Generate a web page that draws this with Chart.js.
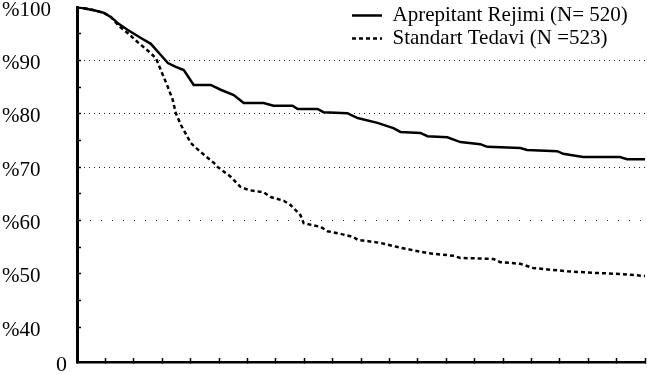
<!DOCTYPE html>
<html>
<head>
<meta charset="utf-8">
<script src="https://cdn.jsdelivr.net/npm/chart.js@4/dist/chart.umd.min.js"></script>
<style>
  html, body { margin: 0; padding: 0; background: #fff; }
  canvas { display: block; }
</style>
</head>
<body>
<canvas id="kmChart" width="647" height="374"></canvas>
<script>
// series names as printed in the legend
const seriesNames = ["Aprepitant Rejimi (N= 520)", "Standart Tedavi (N =523)"];

// time (axis units, one per x tick) and % without emesis
const aprepitantTime = [0, 0.6, 0.95, 1.2, 1.48, 1.79, 2.25, 2.6, 2.95, 3.2, 3.48, 3.76, 4.11, 4.71, 5.06, 5.52, 5.87, 6.57, 6.92, 7.59, 7.77, 8.47, 8.68, 9.52, 9.88, 10.58, 11.14, 11.39, 12.09, 12.34, 13.04, 13.5, 14.2, 14.45, 15.61, 15.85, 16.91, 17.12, 17.82, 19.12, 19.37, 20];
const aprepitantSurvival = [100, 99.4, 98.9, 98.1, 96.8, 95.7, 94.2, 93.1, 91.0, 89.5, 88.8, 88.2, 85.4, 85.4, 84.5, 83.5, 82.0, 82.0, 81.5, 81.5, 80.9, 80.9, 80.3, 80.1, 79.2, 78.3, 77.3, 76.6, 76.4, 75.8, 75.6, 74.7, 74.3, 73.8, 73.6, 73.2, 73.0, 72.5, 71.9, 71.9, 71.5, 71.5];

const standardTime = [0, 0.6, 0.95, 1.2, 1.48, 1.79, 2.14, 2.5, 2.78, 2.95, 3.2, 3.37, 3.48, 3.66, 4.01, 4.36, 4.82, 4.96, 5.41, 5.76, 6.05, 6.57, 6.82, 7.28, 7.52, 7.87, 7.98, 8.58, 8.82, 9.28, 9.74, 9.88, 10.69, 11.39, 12.34, 13.25, 13.5, 14.66, 14.9, 15.61, 16.06, 17.26, 18.17, 19.12, 20];
const standardSurvival = [100, 99.4, 98.9, 98.1, 96.4, 95.1, 93.4, 91.8, 90.4, 88.2, 85.0, 82.6, 80.1, 77.9, 74.5, 72.8, 70.8, 70.0, 68.2, 66.3, 65.7, 65.3, 64.4, 63.7, 62.9, 61.0, 59.5, 58.8, 58.0, 57.5, 56.9, 56.4, 55.8, 54.9, 53.9, 53.4, 53.0, 52.8, 52.2, 51.9, 51.1, 50.5, 50.2, 50.0, 49.6];

// y axis: labelled ticks, small marks every 5, and the broken bottom shown as "0"
const yLabelValues = [40, 50, 60, 70, 80, 90, 100];
const yMarkValues = [40, 45, 50, 55, 60, 65, 70, 75, 80, 85, 90, 95, 100];
const yAxisBottom = 33.5;
const xMax = 20;

const serif = "'Liberation Serif', 'DejaVu Serif', serif";
const clear = 'rgba(0,0,0,0)';

function toPoints(xs, ys) {
  return xs.map((x, i) => ({ x: x, y: ys[i] }));
}

// legend sits inside the plot, top right
const legendSpot = {
  id: 'legendSpot',
  afterLayout(chart) {
    const lg = chart.legend;
    if (!lg) return;
    lg.left = 350;
    lg.top = 3;
  }
};

new Chart(document.getElementById('kmChart'), {
  type: 'line',
  data: {
    datasets: [{
      label: seriesNames[0],
      data: toPoints(aprepitantTime, aprepitantSurvival),
      borderColor: '#000',
      borderWidth: 2.5,
      pointRadius: 0,
      tension: 0,
      fill: false,
      xAxisID: 'x',
      yAxisID: 'y'
    }, {
      label: seriesNames[1],
      data: toPoints(standardTime, standardSurvival),
      borderColor: '#000',
      borderWidth: 2.5,
      borderDash: [4, 3],
      pointRadius: 0,
      tension: 0,
      fill: false,
      xAxisID: 'x',
      yAxisID: 'y'
    }]
  },
  options: {
    responsive: false,
    animation: false,
    events: [],
    layout: { padding: { left: 2, right: 2, top: 7, bottom: 12 } },
    plugins: {
      tooltip: { enabled: false },
      legend: {
        position: 'chartArea',
        align: 'start',
        labels: {
          usePointStyle: true,
          pointStyle: 'line',
          pointStyleWidth: 30,
          padding: 2,
          color: '#000',
          font: { family: serif, size: 21 },
          // point style drops the dataset dash, so put it back
          generateLabels: chart => Chart.defaults.plugins.legend.labels.generateLabels(chart).map((item, i) => {
            const ds = chart.data.datasets[i];
            item.lineDash = ds.borderDash || [];
            item.lineWidth = ds.borderWidth;
            item.strokeStyle = ds.borderColor;
            return item;
          })
        }
      }
    },
    scales: {
      x: {
        type: 'linear',
        position: 'bottom',
        min: 0,
        max: xMax,
        ticks: { display: false, stepSize: 1, autoSkip: false },
        grid: { drawOnChartArea: false, drawTicks: true, tickLength: -4, tickWidth: 1.5, tickColor: '#000' },
        border: { color: '#000', width: 2.5 },
        afterFit: s => { s.height = 0; s.paddingLeft = 0; s.paddingRight = 0; }
      },
      y: {
        type: 'linear',
        position: 'left',
        weight: 0,
        min: yAxisBottom,
        max: 100,
        afterBuildTicks: s => { s.ticks = [yAxisBottom, ...yMarkValues].map(v => ({ value: v })); },
        afterFit: s => { s.width = 22; s.paddingTop = 0; s.paddingBottom = 0; },
        ticks: {
          autoSkip: false,
          padding: 14,
          labelOffset: 3,
          color: '#000',
          font: { family: serif, size: 22 },
          callback: v => (v === yAxisBottom ? '0' : '')
        },
        grid: {
          drawTicks: true,
          tickLength: -4,
          tickWidth: 1.5,
          lineWidth: 1,
          tickColor: ctx => (ctx.tick && ctx.tick.value >= 40 ? '#000' : clear),
          color: ctx => {
            const v = ctx.tick && ctx.tick.value;
            return [60, 70, 80, 90].includes(v) ? '#222' : clear;
          }
        },
        border: {
          color: '#000',
          width: 3,
          dash: ctx => (ctx.tick && ctx.tick.value === 60 ? [1, 10] : [1, 4])
        }
      },
      yl: {
        type: 'linear',
        position: 'left',
        weight: 1,
        min: yAxisBottom,
        max: 100,
        afterBuildTicks: s => { s.ticks = yLabelValues.map(v => ({ value: v })); },
        afterFit: s => { s.width = 53; s.paddingTop = 0; s.paddingBottom = 0; },
        grid: { display: false, drawTicks: false },
        border: { display: false },
        ticks: {
          autoSkip: false,
          crossAlign: 'far',
          padding: 0,
          labelOffset: 3,
          color: '#000',
          font: { family: serif, size: 21 },
          callback: v => '%' + v
        }
      }
    }
  },
  plugins: [legendSpot]
});
</script>
</body>
</html>
